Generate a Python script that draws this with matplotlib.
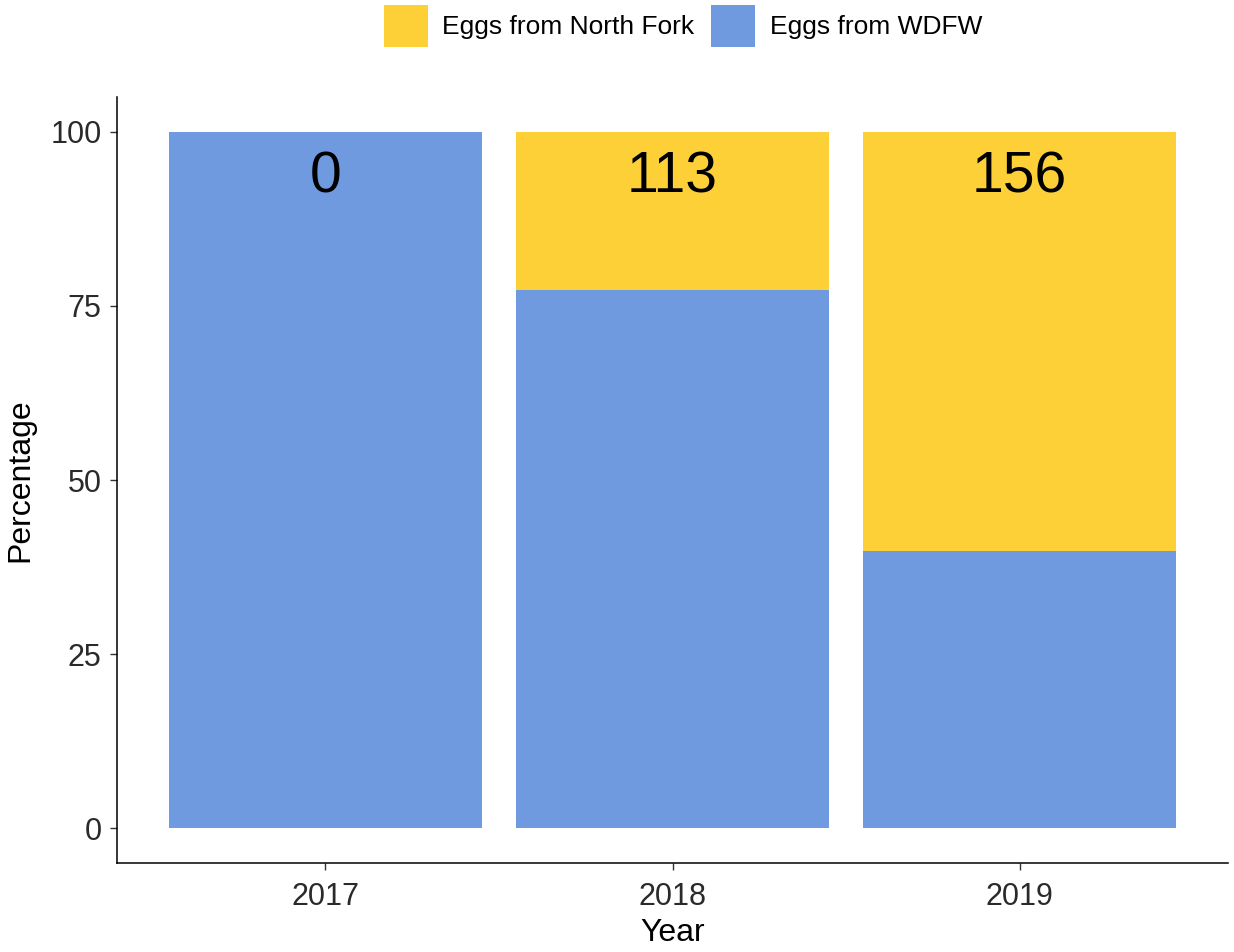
import matplotlib
matplotlib.use("Agg")
import matplotlib.pyplot as plt
from matplotlib.patches import Patch

plt.rcParams["font.family"] = ["Liberation Sans", "DejaVu Sans"]

# Donnees
years        = ["2017", "2018", "2019"]
pct_wdfw     = [100.0, 77.3, 39.8]
pct_north    = [0.0, 22.7, 60.2]
north_counts = ["0", "113", "156"]

col_north = "#FCD036"
col_wdfw  = "#6F9AE0"

fig = plt.figure(figsize=(12.34, 9.52), dpi=100)
ax = fig.add_axes([117 / 1234, 89 / 952, 1111 / 1234, 766 / 952])

x = list(range(1, len(years) + 1))
ax.bar(x, pct_wdfw, width=0.9, color=col_wdfw, linewidth=0)
ax.bar(x, pct_north, width=0.9, bottom=pct_wdfw, color=col_north, linewidth=0)

for xi, lab in zip(x, north_counts):
    ax.text(xi, 93.4, lab, ha="center", va="center", fontsize=41, color="black")

ax.set_xlim(0.4, 3.6)
ax.set_ylim(-5, 105)
ax.set_xticks(x)
ax.set_xticklabels(years)
ax.set_yticks([0, 25, 50, 75, 100])

for s in ["top", "right"]:
    ax.spines[s].set_visible(False)
for s in ["left", "bottom"]:
    ax.spines[s].set_linewidth(1.1)
ax.tick_params(axis="both", labelsize=22, length=5, width=1.0, color="#333333",
               labelcolor="#2a2a2a")
ax.tick_params(axis="x", pad=9)
ax.tick_params(axis="y", pad=6)

ax.set_xlabel("Year", fontsize=23, labelpad=4)
ax.set_ylabel("Percentage", fontsize=23, labelpad=11)

handles = [Patch(facecolor=col_north, label="Eggs from North Fork"),
           Patch(facecolor=col_wdfw, label="Eggs from WDFW")]
fig.legend(handles=handles, loc="center", bbox_to_anchor=(683 / 1234, 1 - 26 / 952),
           ncol=2, frameon=False, fontsize=19, handlelength=1.65, handleheight=2.1,
           handletextpad=0.55, columnspacing=0.65, borderpad=0)

fig.savefig("out.png", dpi=100)
